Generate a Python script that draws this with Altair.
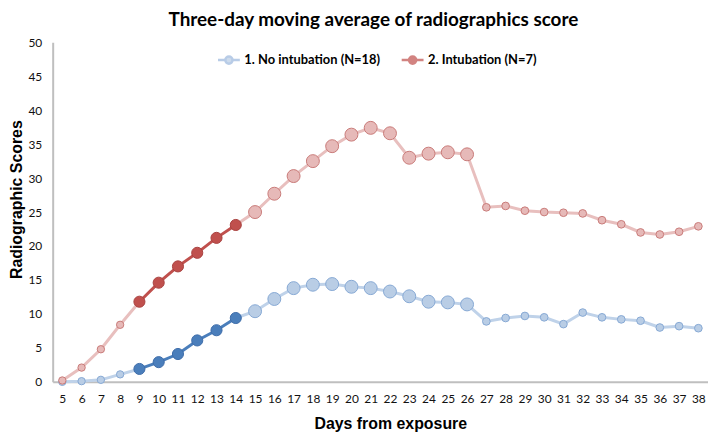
import altair as alt
import pandas as pd

# ---------------- data ----------------
days = [5, 6, 7, 8, 9, 10, 11, 12, 13, 14, 15, 16, 17, 18, 19, 20, 21,
        22, 23, 24, 25, 26, 27, 28, 29, 30, 31, 32, 33, 34, 35, 36, 37, 38]
series_names = ["1. No intubation (N=18)", "2. Intubation (N=7)"]
no_intubation = [0.0, 0.1, 0.3, 1.1, 1.9, 2.9, 4.1, 6.1, 7.6, 9.4, 10.4, 12.2,
                 13.8, 14.3, 14.4, 14.0, 13.8, 13.3, 12.6, 11.8, 11.7, 11.4,
                 8.9, 9.4, 9.7, 9.5, 8.5, 10.2, 9.5, 9.2, 9.0, 8.0, 8.2, 7.9]
intubation = [0.2, 2.1, 4.8, 8.4, 11.8, 14.6, 17.0, 19.0, 21.2, 23.1, 25.0, 27.7,
              30.3, 32.5, 34.7, 36.4, 37.4, 36.6, 33.0, 33.6, 33.8, 33.5,
              25.7, 25.9, 25.2, 25.0, 24.9, 24.8, 23.8, 23.2, 22.0, 21.7, 22.1, 22.9]
y_ticks = [0, 5, 10, 15, 20, 25, 30, 35, 40, 45, 50]

# ---------------- styles ----------------
style = {
    series_names[0]: dict(light_fill="#b9cde5", light_stroke="#86a8d4", light_line="#bfd2e9",
                          dark_fill="#4a7ebb", dark_stroke="#3d6ca8", dark_line="#4a7ebb",
                          legend_fill="#b9cde5", legend_stroke="#9bb7dd"),
    series_names[1]: dict(light_fill="#e6b9b8", light_stroke="#c97b79", light_line="#e8bfbe",
                          dark_fill="#c0504d", dark_stroke="#a8423f", dark_line="#c0504d",
                          legend_fill="#c0504d", legend_stroke="#c0504d"),
}

rows = []
for name, vals in zip(series_names, [no_intubation, intubation]):
    for d, v in zip(days, vals):
        rows.append({"series": name, "day": d, "score": v})
df = pd.DataFrame(rows)


def phase(d):
    if d <= 8:
        return "early"
    if d <= 14:
        return "acute"
    if d <= 26:
        return "peak"
    return "late"


df["phase"] = df["day"].map(phase)
df["fillc"] = [style[s]["dark_fill"] if p == "acute" else style[s]["light_fill"]
               for s, p in zip(df.series, df.phase)]
df["strokec"] = [style[s]["dark_stroke"] if p == "acute" else style[s]["light_stroke"]
                 for s, p in zip(df.series, df.phase)]
df["msize"] = df["phase"].map({"early": 55, "acute": 125, "peak": 170, "late": 60})

segs = []
for name in series_names:
    s = df[df.series == name]
    segs.append(s[s.day <= 9].assign(seg="a", linec=style[name]["light_line"]))
    segs.append(s[s.day >= 14].assign(seg="c", linec=style[name]["light_line"]))
    segs.append(s[(s.day >= 9) & (s.day <= 14)].assign(seg="b", linec=style[name]["dark_line"]))
lines_df = pd.concat(segs, ignore_index=True)
lines_df["segid"] = lines_df["series"] + "_" + lines_df["seg"]

label_font = "Lato"
x_enc = alt.X("day:Q",
              scale=alt.Scale(domain=[4.5, 38.5], nice=False, zero=False),
              axis=alt.Axis(values=days, format="d", ticks=False, grid=False,
                            labelPadding=12, labelFont=label_font, labelFontSize=12,
                            labelColor="#111111", domainColor="#bfbfbf", domainWidth=2,
                            title="Days from exposure", titleFont="Liberation Sans",
                            titleFontSize=16, titleFontWeight="bold", titleColor="#000000",
                            titleX=340, titleY=47, titleBaseline="alphabetic",
                            labelFlush=False, labelOverlap=False))
y_enc = alt.Y("score:Q",
              scale=alt.Scale(domain=[0, 50], nice=False),
              axis=alt.Axis(values=y_ticks, ticks=False, grid=False,
                            labelPadding=11, labelFont=label_font, labelFontSize=12,
                            labelColor="#111111", domainColor="#bfbfbf", domainWidth=2,
                            title="Radiographic Scores", titleFont="Liberation Sans",
                            titleFontSize=16, titleFontWeight="bold", titleColor="#000000",
                            titleX=-28, titleY=158, titleBaseline="bottom",
                            labelFlush=False))

lines = alt.Chart(lines_df).mark_line(strokeWidth=3).encode(
    x=x_enc, y=y_enc,
    detail="segid:N",
    order="day:Q",
    stroke=alt.Stroke("linec:N", scale=None),
)

points = alt.Chart(df).mark_point(filled=True, opacity=1, strokeWidth=1).encode(
    x=x_enc, y=y_enc,
    fill=alt.Fill("fillc:N", scale=None),
    stroke=alt.Stroke("strokec:N", scale=None),
    size=alt.Size("msize:Q", scale=None),
)

legend_path = ("M-1,0L-0.33,0M0.33,0L1,0M0.33,0A0.33,0.33,0,1,1,-0.33,0"
               "A0.33,0.33,0,1,1,0.33,0Z")
leg = alt.Legend(title=None, orient="none", legendX=165, legendY=5, direction="horizontal",
                 symbolType=legend_path, symbolSize=484, symbolStrokeWidth=2.5,
                 labelFont=label_font, labelFontSize=13, labelFontWeight="bold",
                 labelColor="#000000", labelOffset=3, columnPadding=16)

legend_layer = alt.Chart(df).transform_filter("false").mark_point(filled=True).encode(
    x=x_enc, y=y_enc,
    fill=alt.Fill("series:N", scale=alt.Scale(domain=series_names,
                                              range=[style[n]["legend_fill"] for n in series_names]),
                  legend=leg),
    stroke=alt.Stroke("series:N", scale=alt.Scale(domain=series_names,
                                                  range=[style[n]["legend_stroke"] for n in series_names]),
                      legend=leg),
)

chart = alt.layer(lines, points, legend_layer).resolve_scale(
    fill="independent", stroke="independent", size="independent"
).properties(
    width=660, height=342,
    autosize=alt.AutoSizeParams(type="none"),
    padding={"left": 45, "top": 33, "right": 0, "bottom": 50},
    title=alt.TitleParams("Three-day moving average of radiographics score",
                          font=label_font, fontSize=19, fontWeight="bold", color="#000000",
                          anchor="middle", offset=6, dx=-7),
).configure_view(stroke=None)

chart.save("out.html", embed_options={"renderer": "svg", "actions": False})
